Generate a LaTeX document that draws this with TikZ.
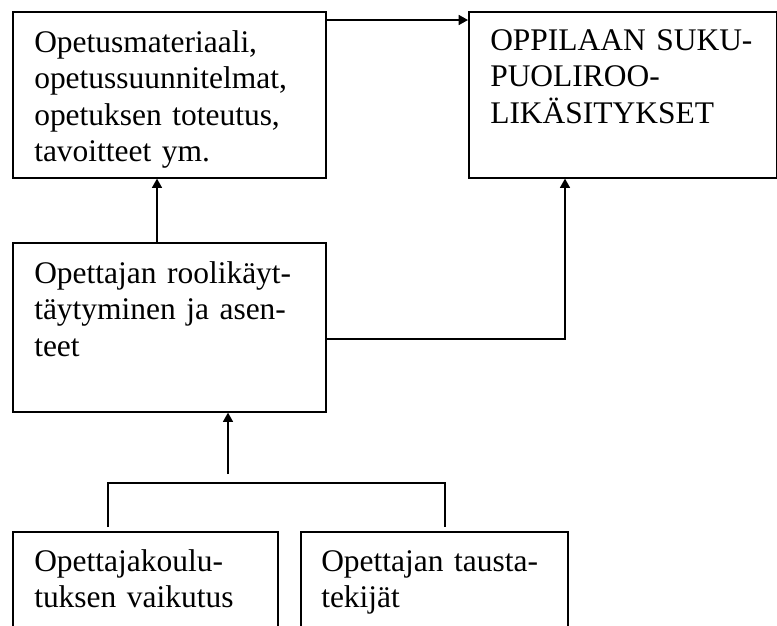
\documentclass[tikz,border=0pt]{standalone}
\usepackage{fontspec}
\setmainfont{Liberation Serif}
\usetikzlibrary{arrows.meta,calc}
\begin{document}
\begin{tikzpicture}[x=0.75pt,y=-0.75pt,
  box/.style={draw,line width=1.2pt,rectangle,anchor=north west,inner sep=0pt},
  txt/.style={anchor=base west,inner sep=0pt,text width=300pt,align=left,
    font=\fontsize{23.6pt}{27.4pt}\selectfont},
  conn/.style={line width=1.2pt},
  arr/.style={conn,-{Triangle[length=7pt,width=7.5pt]}}]
\useasboundingbox (0,0) rectangle (777,625);
\clip (0,0) rectangle (777,625);
% boxes
\node[box,minimum width=313*0.75pt,minimum height=166*0.75pt] (b1) at (12,11) {};
\node[box,minimum width=308*0.75pt,minimum height=166*0.75pt] (b2) at (468,11) {};
\node[box,minimum width=313*0.75pt,minimum height=169*0.75pt] (b3) at (12,242) {};
\node[box,minimum width=265*0.75pt,minimum height=120*0.75pt] (b4) at (12,531) {};
\node[box,minimum width=267*0.75pt,minimum height=120*0.75pt] (b5) at (300,531) {};
% texts
\node[txt] (t1) at (34,52) {Opetusmateriaali,\\opetussuunnitelmat,\\opetuksen toteutus,\\tavoitteet ym.};
\node[txt] (t2) at (490,50) {OPPILAAN SUKU-\\PUOLIROO-\\LIKÄSITYKSET};
\node[txt] (t3) at (34,283) {Opettajan roolikäyt-\\täytyminen ja asen-\\teet};
\node[txt] (t4) at (34,571) {Opettajakoulu-\\tuksen vaikutus};
\node[txt] (t5) at (321,571) {Opettajan tausta-\\tekijät};
% connectors
\draw[arr] (b1.east |- 0,20) -- (b2.west |- 0,20);
\draw[arr] (b3.north -| 157,0) -- (b1.south -| 157,0);
\draw[arr] (b3.east |- 0,339) -- (565,339) -- (b2.south -| 565,0);
\coordinate (join) at (228,474);
\draw[arr] (join) -- (b3.south -| join);
\coordinate (bl) at (108,483);
\coordinate (br) at (445,483);
\draw[conn] ($(b4.north -| bl)+(0,-4)$) -- (bl) -- (br) -- ($(b5.north -| br)+(0,-4)$);
\end{tikzpicture}
\end{document}
